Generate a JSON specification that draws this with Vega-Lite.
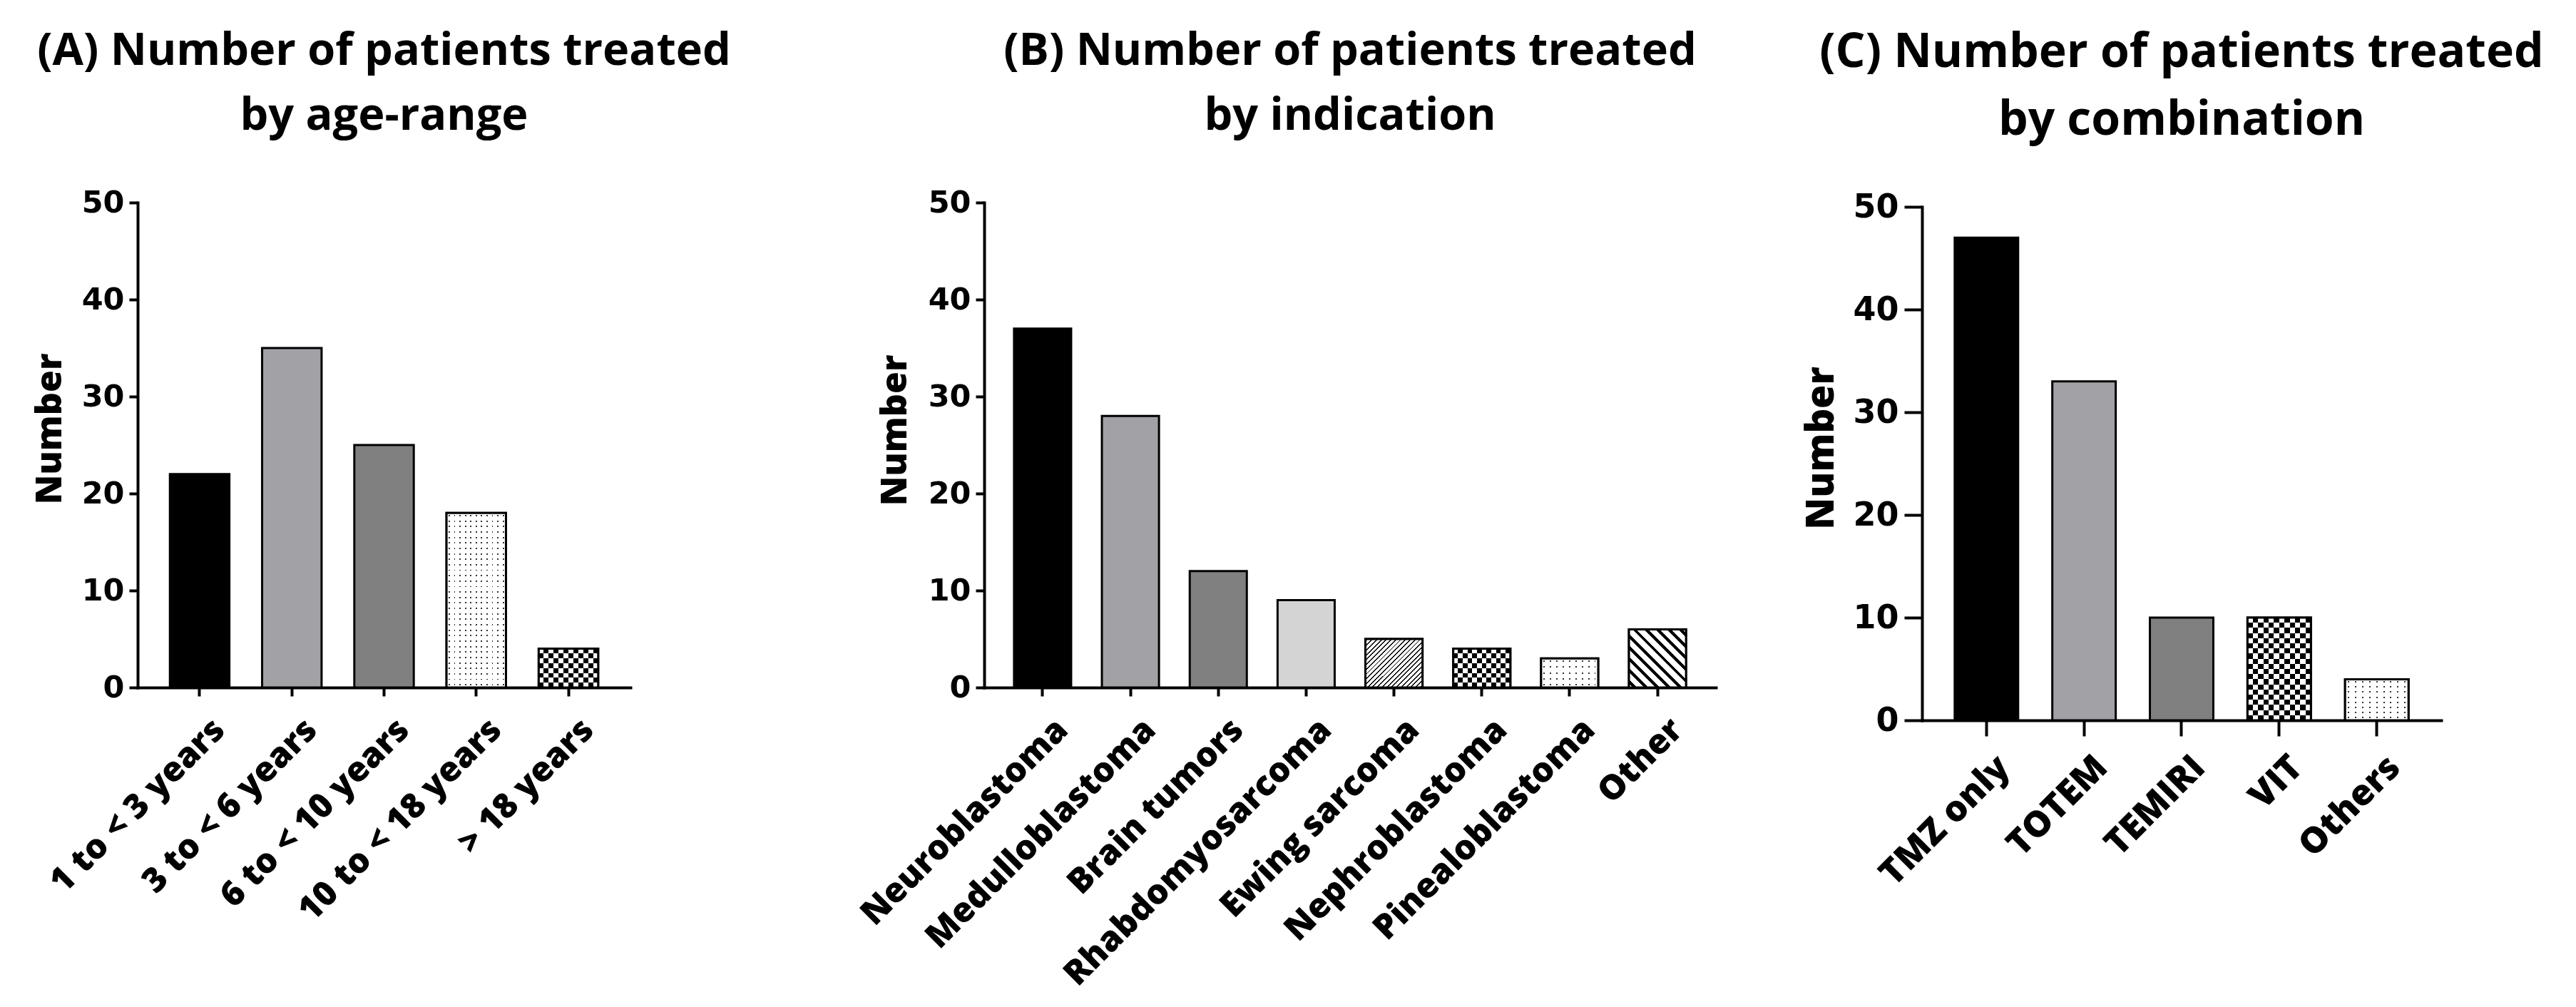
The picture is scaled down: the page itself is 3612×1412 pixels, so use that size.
{
"$schema":"https://vega.github.io/schema/vega-lite/v6.json",
"background":"white",
"padding":{"left":45,"top":41,"right":0,"bottom":0},
"spacing":0,
"bounds":"full",
"resolve":{"scale":{"fill":"independent","x":"independent","y":"independent"}},
"config":{
 "font":"Open Sans",
 "view":{"stroke":null},
 "axis":{"grid":false,"zindex":1,"domainColor":"black","domainWidth":4,"domainCap":"square","tickColor":"black","tickWidth":4,"labelColor":"black","labelFontWeight":"bold","titleColor":"black","titleFontWeight":800,"titleFont":"Open Sans"},
 "title":{"font":"Open Sans","fontWeight":"bold","color":"black","anchor":"middle","frame":"group"}
},
"datasets":{
 "age":[{"group":"1 to < 3 years","n":22},{"group":"3 to < 6 years","n":35},{"group":"6 to < 10 years","n":25},{"group":"10 to < 18 years","n":18},{"group":"> 18 years","n":4}],
 "ind":[{"group":"Neuroblastoma","n":37},{"group":"Medulloblastoma","n":28},{"group":"Brain tumors","n":12},{"group":"Rhabdomyosarcoma","n":9},{"group":"Ewing sarcoma","n":5},{"group":"Nephroblastoma","n":4},{"group":"Pinealoblastoma","n":3},{"group":"Other","n":6}],
 "comb":[{"group":"TMZ only","n":47},{"group":"TOTEM","n":33},{"group":"TEMIRI","n":10},{"group":"VIT","n":10},{"group":"Others","n":4}]
},
"hconcat":[
{
 "width":691,"height":680,
 "title":{"text":["(A) Number of patients treated","by age-range"],"fontSize":63,"lineHeight":91,"offset":68,"frame":"group","anchor":"middle"},
 "data":{"name":"age"},
 "encoding":{
  "x":{"field":"group","type":"nominal","scale":{"domain":["1 to < 3 years","3 to < 6 years","6 to < 10 years","10 to < 18 years","> 18 years"],"paddingInner":0.355,"paddingOuter":0.35},"axis":{"title":null,"labelAngle":-45,"labelAlign":"right","labelBaseline":"middle","labelFontSize":48,"labelFont":"Open Sans","labelFontWeight":800,"labelPadding":40,"labelOffset":28,"labelLimit":0,"tickSize":12}},
  "y":{"field":"n","type":"quantitative","scale":{"domain":[0,50],"nice":false},"axis":{"title":"Number","values":[0,10,20,30,40,50],"labelFont":"DejaVu Sans","labelFontSize":43,"labelPadding":7,"tickSize":12,"titleFontSize":50,"titleAngle":-90,"titleBaseline":"middle","titleX":-123,"titleY":317}}
 },
 "layer":[
  {"mark":{"type":"bar","stroke":"black","strokeWidth":3},"encoding":{"fill":{"field":"group","type":"nominal","legend":null,"scale":{"domain":["1 to < 3 years","3 to < 6 years","6 to < 10 years","10 to < 18 years","> 18 years"],"range":["#000000","#a2a1a6","#808080","#ffffff","#ffffff"]}}}},
  {"transform":[{"filter":"datum.group == '10 to < 18 years'"}],"mark":{"type":"bar","fill":{"gradient":"linear","x1":0,"y1":0,"x2":0,"y2":1,"stops":[
{"offset":0.0117,"color":"#fff"},{"offset":0.0117,"color":"#333"},{"offset":0.0195,"color":"#333"},{"offset":0.0195,"color":"#fff"},
{"offset":0.0430,"color":"#fff"},{"offset":0.0430,"color":"#333"},{"offset":0.0508,"color":"#333"},{"offset":0.0508,"color":"#fff"},
{"offset":0.0742,"color":"#fff"},{"offset":0.0742,"color":"#333"},{"offset":0.0820,"color":"#333"},{"offset":0.0820,"color":"#fff"},
{"offset":0.1055,"color":"#fff"},{"offset":0.1055,"color":"#333"},{"offset":0.1133,"color":"#333"},{"offset":0.1133,"color":"#fff"},
{"offset":0.1367,"color":"#fff"},{"offset":0.1367,"color":"#333"},{"offset":0.1445,"color":"#333"},{"offset":0.1445,"color":"#fff"},
{"offset":0.1680,"color":"#fff"},{"offset":0.1680,"color":"#333"},{"offset":0.1758,"color":"#333"},{"offset":0.1758,"color":"#fff"},
{"offset":0.1992,"color":"#fff"},{"offset":0.1992,"color":"#333"},{"offset":0.2070,"color":"#333"},{"offset":0.2070,"color":"#fff"},
{"offset":0.2305,"color":"#fff"},{"offset":0.2305,"color":"#333"},{"offset":0.2383,"color":"#333"},{"offset":0.2383,"color":"#fff"},
{"offset":0.2617,"color":"#fff"},{"offset":0.2617,"color":"#333"},{"offset":0.2695,"color":"#333"},{"offset":0.2695,"color":"#fff"},
{"offset":0.2930,"color":"#fff"},{"offset":0.2930,"color":"#333"},{"offset":0.3008,"color":"#333"},{"offset":0.3008,"color":"#fff"},
{"offset":0.3242,"color":"#fff"},{"offset":0.3242,"color":"#333"},{"offset":0.3320,"color":"#333"},{"offset":0.3320,"color":"#fff"},
{"offset":0.3555,"color":"#fff"},{"offset":0.3555,"color":"#333"},{"offset":0.3633,"color":"#333"},{"offset":0.3633,"color":"#fff"},
{"offset":0.3867,"color":"#fff"},{"offset":0.3867,"color":"#333"},{"offset":0.3945,"color":"#333"},{"offset":0.3945,"color":"#fff"},
{"offset":0.4180,"color":"#fff"},{"offset":0.4180,"color":"#333"},{"offset":0.4258,"color":"#333"},{"offset":0.4258,"color":"#fff"},
{"offset":0.4492,"color":"#fff"},{"offset":0.4492,"color":"#333"},{"offset":0.4570,"color":"#333"},{"offset":0.4570,"color":"#fff"},
{"offset":0.4805,"color":"#fff"},{"offset":0.4805,"color":"#333"},{"offset":0.4883,"color":"#333"},{"offset":0.4883,"color":"#fff"},
{"offset":0.5117,"color":"#fff"},{"offset":0.5117,"color":"#333"},{"offset":0.5195,"color":"#333"},{"offset":0.5195,"color":"#fff"},
{"offset":0.5430,"color":"#fff"},{"offset":0.5430,"color":"#333"},{"offset":0.5508,"color":"#333"},{"offset":0.5508,"color":"#fff"},
{"offset":0.5742,"color":"#fff"},{"offset":0.5742,"color":"#333"},{"offset":0.5820,"color":"#333"},{"offset":0.5820,"color":"#fff"},
{"offset":0.6055,"color":"#fff"},{"offset":0.6055,"color":"#333"},{"offset":0.6133,"color":"#333"},{"offset":0.6133,"color":"#fff"},
{"offset":0.6367,"color":"#fff"},{"offset":0.6367,"color":"#333"},{"offset":0.6445,"color":"#333"},{"offset":0.6445,"color":"#fff"},
{"offset":0.6680,"color":"#fff"},{"offset":0.6680,"color":"#333"},{"offset":0.6758,"color":"#333"},{"offset":0.6758,"color":"#fff"},
{"offset":0.6992,"color":"#fff"},{"offset":0.6992,"color":"#333"},{"offset":0.7070,"color":"#333"},{"offset":0.7070,"color":"#fff"},
{"offset":0.7305,"color":"#fff"},{"offset":0.7305,"color":"#333"},{"offset":0.7383,"color":"#333"},{"offset":0.7383,"color":"#fff"},
{"offset":0.7617,"color":"#fff"},{"offset":0.7617,"color":"#333"},{"offset":0.7695,"color":"#333"},{"offset":0.7695,"color":"#fff"},
{"offset":0.7930,"color":"#fff"},{"offset":0.7930,"color":"#333"},{"offset":0.8008,"color":"#333"},{"offset":0.8008,"color":"#fff"},
{"offset":0.8242,"color":"#fff"},{"offset":0.8242,"color":"#333"},{"offset":0.8320,"color":"#333"},{"offset":0.8320,"color":"#fff"},
{"offset":0.8555,"color":"#fff"},{"offset":0.8555,"color":"#333"},{"offset":0.8633,"color":"#333"},{"offset":0.8633,"color":"#fff"},
{"offset":0.8867,"color":"#fff"},{"offset":0.8867,"color":"#333"},{"offset":0.8945,"color":"#333"},{"offset":0.8945,"color":"#fff"},
{"offset":0.9180,"color":"#fff"},{"offset":0.9180,"color":"#333"},{"offset":0.9258,"color":"#333"},{"offset":0.9258,"color":"#fff"},
{"offset":0.9492,"color":"#fff"},{"offset":0.9492,"color":"#333"},{"offset":0.9570,"color":"#333"},{"offset":0.9570,"color":"#fff"},
{"offset":0.9805,"color":"#fff"},{"offset":0.9805,"color":"#333"},{"offset":0.9883,"color":"#333"},{"offset":0.9883,"color":"#fff"}
]}}},
  {"transform":[{"filter":"datum.group == '10 to < 18 years'"}],"mark":{"type":"bar","blend":"lighten","fill":{"gradient":"linear","x1":0,"y1":0,"x2":1,"y2":0,"stops":[
{"offset":0.0341,"color":"#fff"},{"offset":0.0341,"color":"#333"},{"offset":0.0568,"color":"#333"},{"offset":0.0568,"color":"#fff"},
{"offset":0.1250,"color":"#fff"},{"offset":0.1250,"color":"#333"},{"offset":0.1477,"color":"#333"},{"offset":0.1477,"color":"#fff"},
{"offset":0.2159,"color":"#fff"},{"offset":0.2159,"color":"#333"},{"offset":0.2386,"color":"#333"},{"offset":0.2386,"color":"#fff"},
{"offset":0.3068,"color":"#fff"},{"offset":0.3068,"color":"#333"},{"offset":0.3295,"color":"#333"},{"offset":0.3295,"color":"#fff"},
{"offset":0.3977,"color":"#fff"},{"offset":0.3977,"color":"#333"},{"offset":0.4205,"color":"#333"},{"offset":0.4205,"color":"#fff"},
{"offset":0.4886,"color":"#fff"},{"offset":0.4886,"color":"#333"},{"offset":0.5114,"color":"#333"},{"offset":0.5114,"color":"#fff"},
{"offset":0.5795,"color":"#fff"},{"offset":0.5795,"color":"#333"},{"offset":0.6023,"color":"#333"},{"offset":0.6023,"color":"#fff"},
{"offset":0.6705,"color":"#fff"},{"offset":0.6705,"color":"#333"},{"offset":0.6932,"color":"#333"},{"offset":0.6932,"color":"#fff"},
{"offset":0.7614,"color":"#fff"},{"offset":0.7614,"color":"#333"},{"offset":0.7841,"color":"#333"},{"offset":0.7841,"color":"#fff"},
{"offset":0.8523,"color":"#fff"},{"offset":0.8523,"color":"#333"},{"offset":0.8750,"color":"#333"},{"offset":0.8750,"color":"#fff"},
{"offset":0.9432,"color":"#fff"},{"offset":0.9432,"color":"#333"},{"offset":0.9659,"color":"#333"},{"offset":0.9659,"color":"#fff"}
]}}},
  {"transform":[{"filter":"datum.group == '> 18 years'"}],"mark":{"type":"bar","fill":{"gradient":"linear","x1":0,"y1":0,"x2":0,"y2":1,"stops":[
{"offset":0,"color":"#000"},{"offset":0.125,"color":"#000"},{"offset":0.125,"color":"#fff"},{"offset":0.25,"color":"#fff"},
{"offset":0.25,"color":"#000"},{"offset":0.375,"color":"#000"},{"offset":0.375,"color":"#fff"},{"offset":0.5,"color":"#fff"},
{"offset":0.5,"color":"#000"},{"offset":0.625,"color":"#000"},{"offset":0.625,"color":"#fff"},{"offset":0.75,"color":"#fff"},
{"offset":0.75,"color":"#000"},{"offset":0.875,"color":"#000"},{"offset":0.875,"color":"#fff"},{"offset":1,"color":"#fff"}
]}}},
  {"transform":[{"filter":"datum.group == '> 18 years'"}],"mark":{"type":"bar","blend":"difference","fill":{"gradient":"linear","x1":0,"y1":0,"x2":1,"y2":0,"stops":[
{"offset":0,"color":"#fff"},{"offset":0.0833,"color":"#fff"},{"offset":0.0833,"color":"#000"},{"offset":0.1667,"color":"#000"},
{"offset":0.1667,"color":"#fff"},{"offset":0.25,"color":"#fff"},{"offset":0.25,"color":"#000"},{"offset":0.3333,"color":"#000"},
{"offset":0.3333,"color":"#fff"},{"offset":0.4167,"color":"#fff"},{"offset":0.4167,"color":"#000"},{"offset":0.5,"color":"#000"},
{"offset":0.5,"color":"#fff"},{"offset":0.5833,"color":"#fff"},{"offset":0.5833,"color":"#000"},{"offset":0.6667,"color":"#000"},
{"offset":0.6667,"color":"#fff"},{"offset":0.75,"color":"#fff"},{"offset":0.75,"color":"#000"},{"offset":0.8333,"color":"#000"},
{"offset":0.8333,"color":"#fff"},{"offset":0.9167,"color":"#fff"},{"offset":0.9167,"color":"#000"},{"offset":1,"color":"#000"}
]}}},
  {"transform":[{"filter":"datum.group == '10 to < 18 years' || datum.group == '> 18 years'"}],"mark":{"type":"bar","fillOpacity":0,"stroke":"black","strokeWidth":3}}
 ]
},
{"width":174,"height":10,"data":{"values":[{}]},"mark":{"type":"text","text":""}},
{
 "width":1026,"height":680,
 "title":{"text":["(B) Number of patients treated","by indication"],"fontSize":63,"lineHeight":91,"offset":68,"frame":"group","anchor":"middle"},
 "data":{"name":"ind"},
 "encoding":{
  "x":{"field":"group","type":"nominal","scale":{"domain":["Neuroblastoma","Medulloblastoma","Brain tumors","Rhabdomyosarcoma","Ewing sarcoma","Nephroblastoma","Pinealoblastoma","Other"],"paddingInner":0.35,"paddingOuter":0.34},"axis":{"title":null,"labelAngle":-45,"labelAlign":"right","labelBaseline":"middle","labelFontSize":48,"labelFont":"Open Sans","labelFontWeight":800,"labelPadding":40,"labelOffset":28,"labelLimit":0,"tickSize":12}},
  "y":{"field":"n","type":"quantitative","scale":{"domain":[0,50],"nice":false},"axis":{"title":"Number","values":[0,10,20,30,40,50],"labelFont":"DejaVu Sans","labelFontSize":43,"labelPadding":7,"tickSize":12,"titleFontSize":50,"titleAngle":-90,"titleBaseline":"middle","titleX":-125,"titleY":319}}
 },
 "layer":[
  {"mark":{"type":"bar","stroke":"black","strokeWidth":3},"encoding":{"fill":{"field":"group","type":"nominal","legend":null,"scale":{"domain":["Neuroblastoma","Medulloblastoma","Brain tumors","Rhabdomyosarcoma","Ewing sarcoma","Nephroblastoma","Pinealoblastoma","Other"],"range":["#000000","#a2a1a6","#808080","#d4d4d4","#ffffff","#ffffff","#ffffff","#ffffff"]}}}},
  {"transform":[{"filter":"datum.group == 'Ewing sarcoma'"}],"mark":{"type":"bar","fill":{"gradient":"linear","x1":0,"y1":0,"x2":1.074,"y2":0.913,"stops":[
{"offset":0.0164,"color":"#fff"},{"offset":0.0164,"color":"#000"},{"offset":0.0291,"color":"#000"},{"offset":0.0291,"color":"#fff"},
{"offset":0.0618,"color":"#fff"},{"offset":0.0618,"color":"#000"},{"offset":0.0745,"color":"#000"},{"offset":0.0745,"color":"#fff"},
{"offset":0.1073,"color":"#fff"},{"offset":0.1073,"color":"#000"},{"offset":0.1200,"color":"#000"},{"offset":0.1200,"color":"#fff"},
{"offset":0.1527,"color":"#fff"},{"offset":0.1527,"color":"#000"},{"offset":0.1655,"color":"#000"},{"offset":0.1655,"color":"#fff"},
{"offset":0.1982,"color":"#fff"},{"offset":0.1982,"color":"#000"},{"offset":0.2109,"color":"#000"},{"offset":0.2109,"color":"#fff"},
{"offset":0.2436,"color":"#fff"},{"offset":0.2436,"color":"#000"},{"offset":0.2564,"color":"#000"},{"offset":0.2564,"color":"#fff"},
{"offset":0.2891,"color":"#fff"},{"offset":0.2891,"color":"#000"},{"offset":0.3018,"color":"#000"},{"offset":0.3018,"color":"#fff"},
{"offset":0.3345,"color":"#fff"},{"offset":0.3345,"color":"#000"},{"offset":0.3473,"color":"#000"},{"offset":0.3473,"color":"#fff"},
{"offset":0.3800,"color":"#fff"},{"offset":0.3800,"color":"#000"},{"offset":0.3927,"color":"#000"},{"offset":0.3927,"color":"#fff"},
{"offset":0.4255,"color":"#fff"},{"offset":0.4255,"color":"#000"},{"offset":0.4382,"color":"#000"},{"offset":0.4382,"color":"#fff"},
{"offset":0.4709,"color":"#fff"},{"offset":0.4709,"color":"#000"},{"offset":0.4836,"color":"#000"},{"offset":0.4836,"color":"#fff"},
{"offset":0.5164,"color":"#fff"},{"offset":0.5164,"color":"#000"},{"offset":0.5291,"color":"#000"},{"offset":0.5291,"color":"#fff"},
{"offset":0.5618,"color":"#fff"},{"offset":0.5618,"color":"#000"},{"offset":0.5745,"color":"#000"},{"offset":0.5745,"color":"#fff"},
{"offset":0.6073,"color":"#fff"},{"offset":0.6073,"color":"#000"},{"offset":0.6200,"color":"#000"},{"offset":0.6200,"color":"#fff"},
{"offset":0.6527,"color":"#fff"},{"offset":0.6527,"color":"#000"},{"offset":0.6655,"color":"#000"},{"offset":0.6655,"color":"#fff"},
{"offset":0.6982,"color":"#fff"},{"offset":0.6982,"color":"#000"},{"offset":0.7109,"color":"#000"},{"offset":0.7109,"color":"#fff"},
{"offset":0.7436,"color":"#fff"},{"offset":0.7436,"color":"#000"},{"offset":0.7564,"color":"#000"},{"offset":0.7564,"color":"#fff"},
{"offset":0.7891,"color":"#fff"},{"offset":0.7891,"color":"#000"},{"offset":0.8018,"color":"#000"},{"offset":0.8018,"color":"#fff"},
{"offset":0.8345,"color":"#fff"},{"offset":0.8345,"color":"#000"},{"offset":0.8473,"color":"#000"},{"offset":0.8473,"color":"#fff"},
{"offset":0.8800,"color":"#fff"},{"offset":0.8800,"color":"#000"},{"offset":0.8927,"color":"#000"},{"offset":0.8927,"color":"#fff"},
{"offset":0.9255,"color":"#fff"},{"offset":0.9255,"color":"#000"},{"offset":0.9382,"color":"#000"},{"offset":0.9382,"color":"#fff"},
{"offset":0.9709,"color":"#fff"},{"offset":0.9709,"color":"#000"},{"offset":0.9836,"color":"#000"},{"offset":0.9836,"color":"#fff"}
]}}},
  {"transform":[{"filter":"datum.group == 'Nephroblastoma'"}],"mark":{"type":"bar","fill":{"gradient":"linear","x1":0,"y1":0,"x2":0,"y2":1,"stops":[
{"offset":0,"color":"#000"},{"offset":0.125,"color":"#000"},{"offset":0.125,"color":"#fff"},{"offset":0.25,"color":"#fff"},
{"offset":0.25,"color":"#000"},{"offset":0.375,"color":"#000"},{"offset":0.375,"color":"#fff"},{"offset":0.5,"color":"#fff"},
{"offset":0.5,"color":"#000"},{"offset":0.625,"color":"#000"},{"offset":0.625,"color":"#fff"},{"offset":0.75,"color":"#fff"},
{"offset":0.75,"color":"#000"},{"offset":0.875,"color":"#000"},{"offset":0.875,"color":"#fff"},{"offset":1,"color":"#fff"}
]}}},
  {"transform":[{"filter":"datum.group == 'Nephroblastoma'"}],"mark":{"type":"bar","blend":"difference","fill":{"gradient":"linear","x1":0,"y1":0,"x2":1,"y2":0,"stops":[
{"offset":0,"color":"#fff"},{"offset":0.0833,"color":"#fff"},{"offset":0.0833,"color":"#000"},{"offset":0.1667,"color":"#000"},
{"offset":0.1667,"color":"#fff"},{"offset":0.25,"color":"#fff"},{"offset":0.25,"color":"#000"},{"offset":0.3333,"color":"#000"},
{"offset":0.3333,"color":"#fff"},{"offset":0.4167,"color":"#fff"},{"offset":0.4167,"color":"#000"},{"offset":0.5,"color":"#000"},
{"offset":0.5,"color":"#fff"},{"offset":0.5833,"color":"#fff"},{"offset":0.5833,"color":"#000"},{"offset":0.6667,"color":"#000"},
{"offset":0.6667,"color":"#fff"},{"offset":0.75,"color":"#fff"},{"offset":0.75,"color":"#000"},{"offset":0.8333,"color":"#000"},
{"offset":0.8333,"color":"#fff"},{"offset":0.9167,"color":"#fff"},{"offset":0.9167,"color":"#000"},{"offset":1,"color":"#000"}
]}}},
  {"transform":[{"filter":"datum.group == 'Pinealoblastoma'"}],"mark":{"type":"bar","fill":{"gradient":"linear","x1":0,"y1":0,"x2":0,"y2":1,"stops":[
{"offset":0.076,"color":"#fff"},{"offset":0.076,"color":"#333"},{"offset":0.124,"color":"#333"},{"offset":0.124,"color":"#fff"},
{"offset":0.276,"color":"#fff"},{"offset":0.276,"color":"#333"},{"offset":0.324,"color":"#333"},{"offset":0.324,"color":"#fff"},
{"offset":0.476,"color":"#fff"},{"offset":0.476,"color":"#333"},{"offset":0.524,"color":"#333"},{"offset":0.524,"color":"#fff"},
{"offset":0.676,"color":"#fff"},{"offset":0.676,"color":"#333"},{"offset":0.724,"color":"#333"},{"offset":0.724,"color":"#fff"},
{"offset":0.876,"color":"#fff"},{"offset":0.876,"color":"#333"},{"offset":0.924,"color":"#333"},{"offset":0.924,"color":"#fff"}
]}}},
  {"transform":[{"filter":"datum.group == 'Pinealoblastoma'"}],"mark":{"type":"bar","blend":"lighten","fill":{"gradient":"linear","x1":0,"y1":0,"x2":1,"y2":0,"stops":[
{"offset":0.0433,"color":"#fff"},{"offset":0.0433,"color":"#333"},{"offset":0.0678,"color":"#333"},{"offset":0.0678,"color":"#fff"},
{"offset":0.1544,"color":"#fff"},{"offset":0.1544,"color":"#333"},{"offset":0.1789,"color":"#333"},{"offset":0.1789,"color":"#fff"},
{"offset":0.2656,"color":"#fff"},{"offset":0.2656,"color":"#333"},{"offset":0.2900,"color":"#333"},{"offset":0.2900,"color":"#fff"},
{"offset":0.3767,"color":"#fff"},{"offset":0.3767,"color":"#333"},{"offset":0.4011,"color":"#333"},{"offset":0.4011,"color":"#fff"},
{"offset":0.4878,"color":"#fff"},{"offset":0.4878,"color":"#333"},{"offset":0.5122,"color":"#333"},{"offset":0.5122,"color":"#fff"},
{"offset":0.5989,"color":"#fff"},{"offset":0.5989,"color":"#333"},{"offset":0.6233,"color":"#333"},{"offset":0.6233,"color":"#fff"},
{"offset":0.7100,"color":"#fff"},{"offset":0.7100,"color":"#333"},{"offset":0.7344,"color":"#333"},{"offset":0.7344,"color":"#fff"},
{"offset":0.8211,"color":"#fff"},{"offset":0.8211,"color":"#333"},{"offset":0.8456,"color":"#333"},{"offset":0.8456,"color":"#fff"},
{"offset":0.9322,"color":"#fff"},{"offset":0.9322,"color":"#333"},{"offset":0.9567,"color":"#333"},{"offset":0.9567,"color":"#fff"}
]}}},
  {"transform":[{"filter":"datum.group == 'Other'"}],"mark":{"type":"bar","fill":{"gradient":"linear","x1":0,"y1":1,"x2":0.99,"y2":-0.01,"stops":[
{"offset":0.032,"color":"#fff"},{"offset":0.032,"color":"#000"},{"offset":0.068,"color":"#000"},{"offset":0.068,"color":"#fff"},
{"offset":0.132,"color":"#fff"},{"offset":0.132,"color":"#000"},{"offset":0.168,"color":"#000"},{"offset":0.168,"color":"#fff"},
{"offset":0.232,"color":"#fff"},{"offset":0.232,"color":"#000"},{"offset":0.268,"color":"#000"},{"offset":0.268,"color":"#fff"},
{"offset":0.332,"color":"#fff"},{"offset":0.332,"color":"#000"},{"offset":0.368,"color":"#000"},{"offset":0.368,"color":"#fff"},
{"offset":0.432,"color":"#fff"},{"offset":0.432,"color":"#000"},{"offset":0.468,"color":"#000"},{"offset":0.468,"color":"#fff"},
{"offset":0.532,"color":"#fff"},{"offset":0.532,"color":"#000"},{"offset":0.568,"color":"#000"},{"offset":0.568,"color":"#fff"},
{"offset":0.632,"color":"#fff"},{"offset":0.632,"color":"#000"},{"offset":0.668,"color":"#000"},{"offset":0.668,"color":"#fff"},
{"offset":0.732,"color":"#fff"},{"offset":0.732,"color":"#000"},{"offset":0.768,"color":"#000"},{"offset":0.768,"color":"#fff"},
{"offset":0.832,"color":"#fff"},{"offset":0.832,"color":"#000"},{"offset":0.868,"color":"#000"},{"offset":0.868,"color":"#fff"},
{"offset":0.932,"color":"#fff"},{"offset":0.932,"color":"#000"},{"offset":0.968,"color":"#000"},{"offset":0.968,"color":"#fff"}
]}}},
  {"transform":[{"filter":"datum.group == 'Ewing sarcoma' || datum.group == 'Nephroblastoma' || datum.group == 'Pinealoblastoma' || datum.group == 'Other'"}],"mark":{"type":"bar","fillOpacity":0,"stroke":"black","strokeWidth":3}}
 ]
},
{"width":121,"height":10,"data":{"values":[{}]},"mark":{"type":"text","text":""}},
{
 "width":728,"height":726,
 "title":{"text":["(C) Number of patients treated","by combination"],"fontSize":66,"lineHeight":95,"offset":64,"frame":"group","anchor":"middle"},
 "data":{"name":"comb"},
 "encoding":{
  "x":{"field":"group","type":"nominal","scale":{"domain":["TMZ only","TOTEM","TEMIRI","VIT","Others"],"paddingInner":0.35,"paddingOuter":0.335},"axis":{"title":null,"labelAngle":-45,"labelAlign":"right","labelBaseline":"middle","labelFontSize":50,"labelFont":"Open Sans","labelFontWeight":800,"labelPadding":36,"labelOffset":25,"labelLimit":0,"tickSize":22}},
  "y":{"field":"n","type":"quantitative","scale":{"domain":[0,50],"nice":false,"range":[726,6]},"axis":{"title":"Number","values":[0,10,20,30,40,50],"labelFont":"DejaVu Sans","labelFontSize":46,"labelPadding":8,"tickSize":25,"titleFontSize":54,"titleAngle":-90,"titleBaseline":"middle","titleX":-141,"titleY":344}}
 },
 "layer":[
  {"mark":{"type":"bar","stroke":"black","strokeWidth":3},"encoding":{"fill":{"field":"group","type":"nominal","legend":null,"scale":{"domain":["TMZ only","TOTEM","TEMIRI","VIT","Others"],"range":["#000000","#a2a1a6","#808080","#ffffff","#ffffff"]}}}},
  {"transform":[{"filter":"datum.group == 'VIT'"}],"mark":{"type":"bar","fill":{"gradient":"linear","x1":0,"y1":0,"x2":0,"y2":1,"stops":[
{"offset":0,"color":"#000"},{"offset":0.05,"color":"#000"},{"offset":0.05,"color":"#fff"},{"offset":0.1,"color":"#fff"},
{"offset":0.1,"color":"#000"},{"offset":0.15,"color":"#000"},{"offset":0.15,"color":"#fff"},{"offset":0.2,"color":"#fff"},
{"offset":0.2,"color":"#000"},{"offset":0.25,"color":"#000"},{"offset":0.25,"color":"#fff"},{"offset":0.3,"color":"#fff"},
{"offset":0.3,"color":"#000"},{"offset":0.35,"color":"#000"},{"offset":0.35,"color":"#fff"},{"offset":0.4,"color":"#fff"},
{"offset":0.4,"color":"#000"},{"offset":0.45,"color":"#000"},{"offset":0.45,"color":"#fff"},{"offset":0.5,"color":"#fff"},
{"offset":0.5,"color":"#000"},{"offset":0.55,"color":"#000"},{"offset":0.55,"color":"#fff"},{"offset":0.6,"color":"#fff"},
{"offset":0.6,"color":"#000"},{"offset":0.65,"color":"#000"},{"offset":0.65,"color":"#fff"},{"offset":0.7,"color":"#fff"},
{"offset":0.7,"color":"#000"},{"offset":0.75,"color":"#000"},{"offset":0.75,"color":"#fff"},{"offset":0.8,"color":"#fff"},
{"offset":0.8,"color":"#000"},{"offset":0.85,"color":"#000"},{"offset":0.85,"color":"#fff"},{"offset":0.9,"color":"#fff"},
{"offset":0.9,"color":"#000"},{"offset":0.95,"color":"#000"},{"offset":0.95,"color":"#fff"},{"offset":1,"color":"#fff"}
]}}},
  {"transform":[{"filter":"datum.group == 'VIT'"}],"mark":{"type":"bar","blend":"difference","fill":{"gradient":"linear","x1":0,"y1":0,"x2":1,"y2":0,"stops":[
{"offset":0,"color":"#fff"},{"offset":0.0833,"color":"#fff"},{"offset":0.0833,"color":"#000"},{"offset":0.1667,"color":"#000"},
{"offset":0.1667,"color":"#fff"},{"offset":0.25,"color":"#fff"},{"offset":0.25,"color":"#000"},{"offset":0.3333,"color":"#000"},
{"offset":0.3333,"color":"#fff"},{"offset":0.4167,"color":"#fff"},{"offset":0.4167,"color":"#000"},{"offset":0.5,"color":"#000"},
{"offset":0.5,"color":"#fff"},{"offset":0.5833,"color":"#fff"},{"offset":0.5833,"color":"#000"},{"offset":0.6667,"color":"#000"},
{"offset":0.6667,"color":"#fff"},{"offset":0.75,"color":"#fff"},{"offset":0.75,"color":"#000"},{"offset":0.8333,"color":"#000"},
{"offset":0.8333,"color":"#fff"},{"offset":0.9167,"color":"#fff"},{"offset":0.9167,"color":"#000"},{"offset":1,"color":"#000"}
]}}},
  {"transform":[{"filter":"datum.group == 'Others'"}],"mark":{"type":"bar","fill":{"gradient":"linear","x1":0,"y1":0,"x2":0,"y2":1,"stops":[
{"offset":0.045,"color":"#fff"},{"offset":0.045,"color":"#333"},{"offset":0.080,"color":"#333"},{"offset":0.080,"color":"#fff"},
{"offset":0.170,"color":"#fff"},{"offset":0.170,"color":"#333"},{"offset":0.205,"color":"#333"},{"offset":0.205,"color":"#fff"},
{"offset":0.295,"color":"#fff"},{"offset":0.295,"color":"#333"},{"offset":0.330,"color":"#333"},{"offset":0.330,"color":"#fff"},
{"offset":0.420,"color":"#fff"},{"offset":0.420,"color":"#333"},{"offset":0.455,"color":"#333"},{"offset":0.455,"color":"#fff"},
{"offset":0.545,"color":"#fff"},{"offset":0.545,"color":"#333"},{"offset":0.580,"color":"#333"},{"offset":0.580,"color":"#fff"},
{"offset":0.670,"color":"#fff"},{"offset":0.670,"color":"#333"},{"offset":0.705,"color":"#333"},{"offset":0.705,"color":"#fff"},
{"offset":0.795,"color":"#fff"},{"offset":0.795,"color":"#333"},{"offset":0.830,"color":"#333"},{"offset":0.830,"color":"#fff"},
{"offset":0.920,"color":"#fff"},{"offset":0.920,"color":"#333"},{"offset":0.955,"color":"#333"},{"offset":0.955,"color":"#fff"}
]}}},
  {"transform":[{"filter":"datum.group == 'Others'"}],"mark":{"type":"bar","blend":"lighten","fill":{"gradient":"linear","x1":0,"y1":0,"x2":1,"y2":0,"stops":[
{"offset":0.0444,"color":"#fff"},{"offset":0.0444,"color":"#333"},{"offset":0.0667,"color":"#333"},{"offset":0.0667,"color":"#fff"},
{"offset":0.1556,"color":"#fff"},{"offset":0.1556,"color":"#333"},{"offset":0.1778,"color":"#333"},{"offset":0.1778,"color":"#fff"},
{"offset":0.2667,"color":"#fff"},{"offset":0.2667,"color":"#333"},{"offset":0.2889,"color":"#333"},{"offset":0.2889,"color":"#fff"},
{"offset":0.3778,"color":"#fff"},{"offset":0.3778,"color":"#333"},{"offset":0.4000,"color":"#333"},{"offset":0.4000,"color":"#fff"},
{"offset":0.4889,"color":"#fff"},{"offset":0.4889,"color":"#333"},{"offset":0.5111,"color":"#333"},{"offset":0.5111,"color":"#fff"},
{"offset":0.6000,"color":"#fff"},{"offset":0.6000,"color":"#333"},{"offset":0.6222,"color":"#333"},{"offset":0.6222,"color":"#fff"},
{"offset":0.7111,"color":"#fff"},{"offset":0.7111,"color":"#333"},{"offset":0.7333,"color":"#333"},{"offset":0.7333,"color":"#fff"},
{"offset":0.8222,"color":"#fff"},{"offset":0.8222,"color":"#333"},{"offset":0.8444,"color":"#333"},{"offset":0.8444,"color":"#fff"},
{"offset":0.9333,"color":"#fff"},{"offset":0.9333,"color":"#333"},{"offset":0.9556,"color":"#333"},{"offset":0.9556,"color":"#fff"}
]}}},
  {"transform":[{"filter":"datum.group == 'VIT' || datum.group == 'Others'"}],"mark":{"type":"bar","fillOpacity":0,"stroke":"black","strokeWidth":3}}
 ]
}
]
}
